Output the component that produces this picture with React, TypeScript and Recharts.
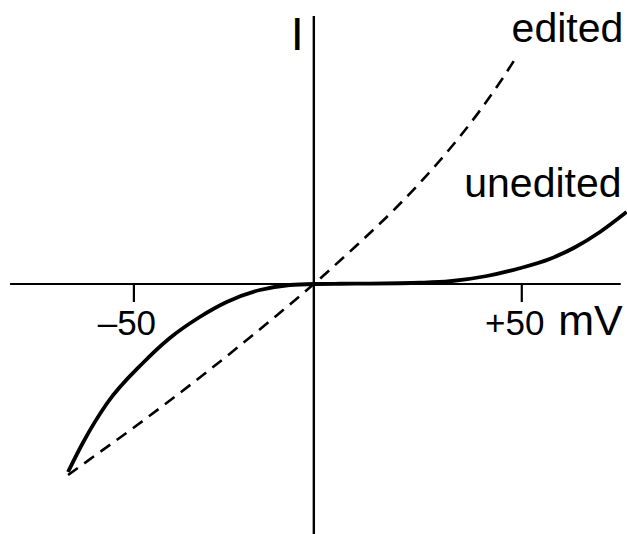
import React from "react";
import {
  LineChart,
  Line,
  XAxis,
  YAxis,
  ReferenceLine,
  LabelList,
} from "recharts";

// membrane potential (mV) and current (arbitrary units), edited channel
const editedMv = [-68.3, -60, -50, -40, -30, -20, -10, 0, 10, 20, 30, 40, 45, 49];
const editedI = [-76.4, -67.8, -57.4, -46.6, -35.5, -24.0, -12.2, 0, 15.0, 30.9, 48.8, 69.5, 81.3, 91.6];

// unedited channel: inward rectification, flat between 0 and ~+30 mV
const uneditedMv = [
  -68.3, -64.2, -57.5, -47.5, -40, -31.7, -24.2, -15, -6.7, 0, 6.3, 13.5, 20.7,
  25.5, 32.7, 41.6, 49.5, 56.7, 62.7, 68.8, 75.2,
];
const uneditedI = [
  -75.2, -63.6, -47.8, -31.6, -21.6, -13.2, -7.2, -2.4, -0.4, 0, 0.1, 0.15, 0.3,
  0.5, 1.1, 3.2, 6.3, 10.0, 14.6, 20.8, 28.8,
];

const xTicks = [-50, 50];
const xTickLabels = ["–50", "+50"];
const xDomain = [-87.2, 75.3];
const yDomain = [-100, 113.6];
const xAxisExtent = [-84.4, 73.8];
const yAxisExtent = [-100, 107.2];
const tickDepth = -7.2;

const edited = editedMv.map((mv, i) => ({ mv, i: editedI[i] }));
const unedited = uneditedMv.map((mv, i) => ({ mv, i: uneditedI[i] }));

const FONT = '"Liberation Sans", Arial, Helvetica, sans-serif';

// The voltage axis is drawn with a slightly wider spacing on the positive side,
// so use a two-slope linear scale that breaks at 0 mV.
// eslint-disable-next-line @typescript-eslint/no-explicit-any
function splitScale(negGain: number, posGain: number): any {
  let dom = [0, 1];
  let rng = [0, 1];
  const warp = (v: number) => (v < 0 ? v * negGain : v * posGain);
  // eslint-disable-next-line @typescript-eslint/no-explicit-any
  const s: any = (v: number) => {
    const w0 = warp(dom[0]);
    const w1 = warp(dom[dom.length - 1]);
    return rng[0] + ((warp(v) - w0) / (w1 - w0)) * (rng[rng.length - 1] - rng[0]);
  };
  s.domain = (d?: number[]) => {
    if (!d) return dom.slice();
    dom = d.map(Number);
    return s;
  };
  s.range = (r?: number[]) => {
    if (!r) return rng.slice();
    rng = r.map(Number);
    return s;
  };
  s.ticks = () => xTicks.slice();
  s.copy = () => splitScale(negGain, posGain).domain(dom).range(rng);
  return s;
}

const voltageScale = splitScale(3.6, 4.16);

// eslint-disable-next-line @typescript-eslint/no-explicit-any
function TickText({ viewBox, text }: any) {
  if (!viewBox) return null;
  return (
    <text
      x={viewBox.x - 7}
      y={viewBox.y + 51}
      textAnchor="middle"
      fontFamily={FONT}
      fontSize={35}
      fill="#000"
    >
      {text}
    </text>
  );
}

// eslint-disable-next-line @typescript-eslint/no-explicit-any
function UnitText({ viewBox }: any) {
  if (!viewBox) return null;
  return (
    <text
      x={viewBox.x + viewBox.width + 2}
      y={viewBox.y + 51}
      textAnchor="end"
      fontFamily={FONT}
      fontSize={43}
      fill="#000"
    >
      mV
    </text>
  );
}

// eslint-disable-next-line @typescript-eslint/no-explicit-any
function CurrentText({ viewBox }: any) {
  if (!viewBox) return null;
  return (
    <text
      x={viewBox.x - 16.5}
      y={viewBox.y + 34}
      textAnchor="middle"
      fontFamily={FONT}
      fontSize={47}
      fill="#000"
    >
      I
    </text>
  );
}

function endLabel(text: string, last: number, dx: number, dy: number, anchor: string) {
  // eslint-disable-next-line @typescript-eslint/no-explicit-any
  return (p: any) => {
    if (p.index !== last) return null;
    const x = p.viewBox?.x ?? p.x;
    const y = p.viewBox?.y ?? p.y;
    return (
      <text
        x={x + dx}
        y={y + dy}
        textAnchor={anchor}
        fontFamily={FONT}
        fontSize={41}
        fill="#000"
      >
        {text}
      </text>
    );
  };
}

export default function App() {
  return (
    <div
      style={{
        position: "absolute",
        left: 0,
        top: 0,
        width: 627,
        height: 534,
        background: "#fff",
      }}
    >
      <LineChart width={627} height={534} margin={{ top: 0, right: 0, bottom: 0, left: 0 }}>
        <XAxis
          type="number"
          dataKey="mv"
          domain={xDomain}
          scale={voltageScale}
          ticks={xTicks}
          allowDataOverflow
          hide
        />
        <YAxis type="number" dataKey="i" domain={yDomain} allowDataOverflow hide />

        {/* axes through the origin */}
        <ReferenceLine
          segment={[
            { x: xAxisExtent[0], y: 0 },
            { x: xAxisExtent[1], y: 0 },
          ]}
          stroke="#000"
          strokeWidth={2.2}
          label={<UnitText />}
        />
        <ReferenceLine
          segment={[
            { x: 0, y: yAxisExtent[1] },
            { x: 0, y: yAxisExtent[0] },
          ]}
          stroke="#000"
          strokeWidth={2.4}
          label={<CurrentText />}
        />
        {xTicks.map((t, k) => (
          <ReferenceLine
            key={t}
            segment={[
              { x: t, y: 0 },
              { x: t, y: tickDepth },
            ]}
            stroke="#000"
            strokeWidth={2.2}
            label={<TickText text={xTickLabels[k]} />}
          />
        ))}

        <Line
          data={edited}
          dataKey="i"
          type="monotone"
          stroke="#000"
          strokeWidth={2.6}
          strokeDasharray="12 8"
          dot={false}
          activeDot={false}
          isAnimationActive={false}
        >
          <LabelList
            dataKey="i"
            content={endLabel("edited", edited.length - 1, -6, -13, "start")}
          />
        </Line>
        <Line
          data={unedited}
          dataKey="i"
          type="monotone"
          stroke="#000"
          strokeWidth={3.8}
          dot={false}
          activeDot={false}
          isAnimationActive={false}
        >
          <LabelList
            dataKey="i"
            content={endLabel("unedited", unedited.length - 1, -5, -15, "end")}
          />
        </Line>
      </LineChart>
    </div>
  );
}
